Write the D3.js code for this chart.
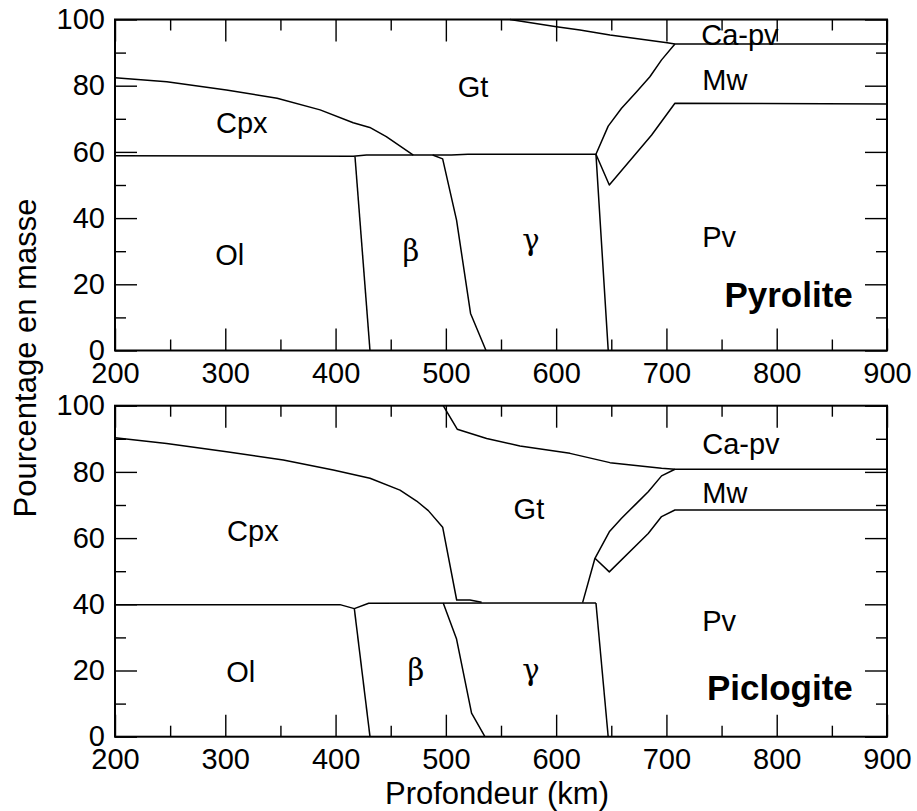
<!DOCTYPE html>
<html>
<head>
<meta charset="utf-8">
<script src="https://cdn.jsdelivr.net/npm/d3@7"></script>
<style>
  body { margin: 0; background: #fff; }
  svg { display: block; }
</style>
</head>
<body>
<svg id="chart" width="917" height="811"></svg>
<script>
// Mineral proportions (mass %) versus depth (km) for two mantle compositions.

// Axis ticks
const depthMajor = [200, 300, 400, 500, 600, 700, 800, 900];
const depthMinor = [250, 350, 450, 550, 650, 750, 850];
const pctMajor = [0, 20, 40, 60, 80, 100];
const pctMinor = [10, 30, 50, 70, 90];

// ---- Pyrolite: phase boundaries [depth km, cumulative mass %] ----
const pyrCpxTop = [[200, 82.4], [247, 81.2], [301, 78.7], [347, 76.2], [386, 72.7],
  [416, 68.8], [431, 67.4], [446, 64.6], [470.5, 59.05]];
const pyrOlTop = [[200, 58.85], [416, 58.7], [428, 59.05], [505, 59.05], [520, 59.3], [636.1, 59.3]];
const pyrOlBeta = [[417.6, 58.6], [431.2, 0]];
const pyrBetaGamma = [[488, 59.05], [497.1, 57.9], [509.7, 39.4], [522.4, 11.2], [536.4, 0]];
const pyrGammaPv = [[636.1, 59.3], [647.2, 0]];
const pyrGtTop = [[558.1, 100], [600.3, 97.8], [621.6, 96.8], [635.2, 96.1], [648.8, 95.3],
  [700.7, 93.0], [707.7, 92.6], [900, 92.6]];
const pyrGtRight = [[636.1, 59.3], [647.2, 67.8], [659.3, 73.2], [673, 78.2], [685, 82.7],
  [695.6, 87.8], [707.7, 92.6]];
const pyrMwBottom = [[636.1, 59.3], [648.2, 50.0], [686.6, 65.1], [707.7, 74.7], [900, 74.5]];

// Pyrolite phase names [text, depth, mass %]
const pyrLabels = [["Cpx", 315, 65.7], ["Ol", 304, 25.8], ["Gt", 524.6, 76.7],
  ["Ca-pv", 731.6, 92.3], ["Mw", 732.5, 78.7], ["Pv", 732.5, 31.3]];
const pyrGreek = [["β", 468.4, 27.0], ["γ", 577.2, 30.3]];

// ---- Piclogite ----
const picCpxTop = [[200, 90.3], [246.8, 88.6], [301.3, 86.1], [352.6, 83.6], [397.9, 80.6],
  [431.2, 78.1], [458.4, 74.5], [473.5, 71.2], [484.1, 68.3], [497.1, 63.3],
  [509.8, 41.3], [521.8, 41.3], [532.4, 40.6]];
const picOlTop = [[200, 39.9], [404, 39.9], [417, 38.7], [430, 40.3], [636.1, 40.4]];
const picOlBeta = [[417, 38.7], [431.2, 0]];
const picBetaGamma = [[497.6, 40.4], [509.7, 29.5], [523.3, 7.1], [535.4, 0]];
const picGammaPv = [[636.1, 40.4], [647.2, 0]];
const picGtTop = [[497.6, 100], [510.3, 92.9], [537, 90.1], [567.2, 87.8], [612.5, 85.6],
  [648.8, 82.8], [695.6, 81.1], [707.7, 80.8], [900, 80.8]];
const picGtRight = [[624, 40.5], [635.2, 53.9], [648.2, 61.9], [659.3, 66.0], [672.9, 70.5],
  [683.5, 74.0], [695.6, 78.8], [707.7, 80.8]];
const picMwBottom = [[635.2, 53.9], [648.2, 49.8], [683.5, 61.4], [695.6, 66.5], [707.7, 68.5], [900, 68.5]];

const picLabels = [["Cpx", 325, 59.1], ["Ol", 314, 16.6], ["Gt", 575.3, 65.8],
  ["Ca-pv", 732.5, 85.4], ["Mw", 732.5, 70.6], ["Pv", 732.5, 31.9]];
const picGreek = [["β", 472.9, 17.0], ["γ", 577.2, 17.0]];

const panelTitles = ["Pyrolite", "Piclogite"];
const titlePos = [[869, 13.1], [869, 11.1]];

const xTitle = "Profondeur (km)";
const yTitle = "Pourcentage en masse";

// ---- Layout ----
const svg = d3.select("#chart");
svg.append("rect").attr("width", 917).attr("height", 811).attr("fill", "#fff");

const x = d3.scaleLinear().domain([200, 900]).range([115, 887]);
const panels = [
  { y: d3.scaleLinear().domain([0, 100]).range([350.5, 19.5]),
    lines: [pyrCpxTop, pyrOlTop, pyrOlBeta, pyrBetaGamma, pyrGammaPv, pyrGtTop, pyrGtRight, pyrMwBottom],
    labels: pyrLabels, greek: pyrGreek, title: panelTitles[0], tpos: titlePos[0] },
  { y: d3.scaleLinear().domain([0, 100]).range([736.7, 405.7]),
    lines: [picCpxTop, picOlTop, picOlBeta, picBetaGamma, picGammaPv, picGtTop, picGtRight, picMwBottom],
    labels: picLabels, greek: picGreek, title: panelTitles[1], tpos: titlePos[1] }
];

const sans = "'Liberation Sans', Arial, Helvetica, sans-serif";
const serif = "'DejaVu Serif', 'Liberation Serif', serif";
const MAJ = 22, MIN = 11;

panels.forEach(p => {
  const y = p.y;
  const [y0, y1] = y.range();
  const g = svg.append("g");

  const styleAxis = sel => {
    sel.select(".domain").remove();
    sel.selectAll(".tick line").attr("stroke", "#000").attr("stroke-width", 1.4);
    sel.selectAll("text").attr("fill", "#000").style("font-family", sans).style("font-size", "29px");
  };

  // bottom axis with labels
  g.append("g").attr("transform", `translate(0,${y0})`)
    .call(d3.axisBottom(x).tickValues(depthMajor).tickSizeInner(-MAJ).tickSizeOuter(0).tickPadding(12).tickFormat(d3.format("d")))
    .call(styleAxis);
  g.append("g").attr("transform", `translate(0,${y0})`)
    .call(d3.axisBottom(x).tickValues(depthMinor).tickSizeInner(-MIN).tickSizeOuter(0).tickFormat(""))
    .call(styleAxis);
  // top axis
  g.append("g").attr("transform", `translate(0,${y1})`)
    .call(d3.axisTop(x).tickValues(depthMajor).tickSizeInner(-MAJ).tickSizeOuter(0).tickFormat(""))
    .call(styleAxis);
  g.append("g").attr("transform", `translate(0,${y1})`)
    .call(d3.axisTop(x).tickValues(depthMinor).tickSizeInner(-MIN).tickSizeOuter(0).tickFormat(""))
    .call(styleAxis);
  // left axis with labels
  g.append("g").attr("transform", `translate(${x(200)},0)`)
    .call(d3.axisLeft(y).tickValues(pctMajor).tickSizeInner(-MAJ).tickSizeOuter(0).tickPadding(10).tickFormat(d3.format("d")))
    .call(styleAxis);
  g.append("g").attr("transform", `translate(${x(200)},0)`)
    .call(d3.axisLeft(y).tickValues(pctMinor).tickSizeInner(-MIN).tickSizeOuter(0).tickFormat(""))
    .call(styleAxis);
  // right axis
  g.append("g").attr("transform", `translate(${x(900)},0)`)
    .call(d3.axisRight(y).tickValues(pctMajor).tickSizeInner(-MAJ).tickSizeOuter(0).tickFormat(""))
    .call(styleAxis);
  g.append("g").attr("transform", `translate(${x(900)},0)`)
    .call(d3.axisRight(y).tickValues(pctMinor).tickSizeInner(-MIN).tickSizeOuter(0).tickFormat(""))
    .call(styleAxis);

  // phase boundaries
  const line = d3.line().x(d => x(d[0])).y(d => y(d[1]));
  g.selectAll("path.bound").data(p.lines).join("path")
    .attr("class", "bound")
    .attr("d", line)
    .attr("fill", "none").attr("stroke", "#000").attr("stroke-width", 1.5)
    .attr("stroke-linejoin", "round");

  // frame
  g.append("rect")
    .attr("x", x(200)).attr("y", y1)
    .attr("width", x(900) - x(200)).attr("height", y0 - y1)
    .attr("fill", "none").attr("stroke", "#000").attr("stroke-width", 2);

  // phase names
  g.selectAll("text.phase").data(p.labels).join("text")
    .attr("class", "phase")
    .attr("x", d => x(d[1])).attr("y", d => y(d[2]))
    .attr("text-anchor", d => d[1] > 700 ? "start" : "middle")
    .style("font-family", sans).style("font-size", "29px").text(d => d[0]);
  g.selectAll("text.greek").data(p.greek).join("text")
    .attr("class", "greek")
    .attr("x", d => x(d[1])).attr("y", d => y(d[2]))
    .attr("text-anchor", "middle")
    .style("font-family", serif).style("font-size", "29px").text(d => d[0]);

  // composition title
  g.append("text")
    .attr("x", x(p.tpos[0])).attr("y", y(p.tpos[1]))
    .attr("text-anchor", "end")
    .style("font-family", sans).style("font-size", "35px").style("font-weight", "bold")
    .text(p.title);
});

// axis titles
svg.append("text")
  .attr("x", 497).attr("y", 804)
  .attr("text-anchor", "middle")
  .style("font-family", sans).style("font-size", "31px")
  .text(xTitle);
svg.append("text")
  .attr("transform", "translate(36,358) rotate(-90)")
  .attr("text-anchor", "middle")
  .style("font-family", sans).style("font-size", "31px")
  .text(yTitle);
</script>
</body>
</html>
